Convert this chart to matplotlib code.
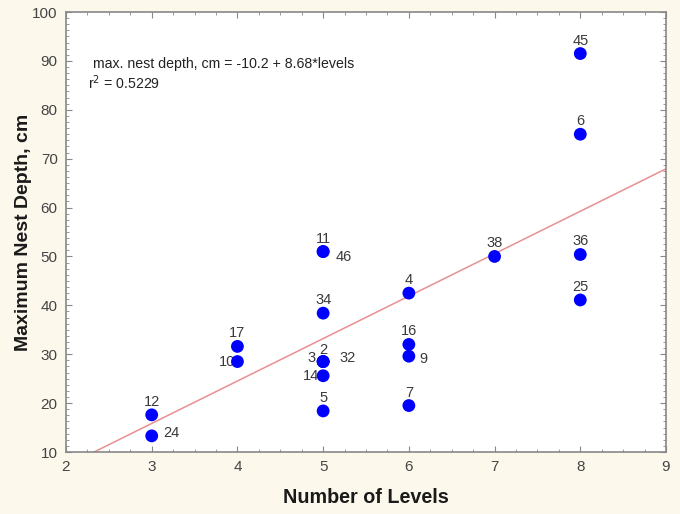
import matplotlib
matplotlib.use("Agg")
import matplotlib.pyplot as plt
from matplotlib.ticker import MultipleLocator
import numpy as np

plt.rcParams['font.family'] = ['Liberation Sans', 'DejaVu Sans']

# Data
levels = [3, 3, 4, 4, 5, 5, 5, 5, 5, 5, 5, 5, 6, 6, 6, 6, 7, 8, 8, 8, 8]
depth = [17.6, 13.3, 31.6, 28.5, 51.0, 51.0, 38.4, 28.5, 28.5, 28.5, 25.6, 18.4,
         42.5, 32.0, 29.6, 19.5, 50.0, 91.5, 75.0, 50.4, 41.1]
ids = ['12', '24', '17', '10', '11', '46', '34', '2', '3', '32', '14', '5',
       '4', '16', '9', '7', '38', '45', '6', '36', '25']
intercept = -10.2
slope = 8.68
r2 = 0.5229

# label offsets in pixels (style)
offsets = {
    '12': (0, 13, 'center'), '24': (12, 3, 'left'), '17': (0, 13, 'center'),
    '10': (-2, 0, 'right'), '11': (0, 13, 'center'), '46': (12, -5, 'left'),
    '34': (0, 13, 'center'), '2': (0, 12, 'center'), '3': (-8, 4, 'right'),
    '32': (16, 4, 'left'), '14': (-4, 0, 'right'), '5': (0, 13, 'center'),
    '4': (0, 13, 'center'), '16': (0, 13, 'center'), '9': (11, -3, 'left'),
    '7': (0, 13, 'center'), '38': (0, 13, 'center'), '45': (0, 13, 'center'),
    '6': (0, 13, 'center'), '36': (0, 13, 'center'), '25': (0, 13, 'center'),
}

fig = plt.figure(figsize=(6.8, 5.14), dpi=100, facecolor='#fcf8ec')
ax = fig.add_axes([66/680, 1-452/514, 600/680, 440/514])
ax.set_facecolor('white')

ax.set_xlim(2, 9)
ax.set_ylim(10, 100)

xs = np.array([2, 9])
ax.plot(xs, intercept + slope * xs, color='#e89090', lw=1.1, zorder=1)

ax.scatter(levels, depth, s=85, color='#0000ff', zorder=3, edgecolors='none')

for x, y, t in zip(levels, depth, ids):
    dx, dy, ha = offsets[t]
    ax.annotate(t, (x, y), xytext=(dx, dy), textcoords='offset pixels',
                ha=ha, va='center', fontsize=10.5, color='#3a3a3a', zorder=2)

ax.text(0.045, 0.882, 'max. nest depth, cm = -10.2 + 8.68*levels',
        transform=ax.transAxes, fontsize=10.2, color='#222222', va='center')
ax.text(0.037, 0.840, 'r$^2$ = %.4f' % r2,
        transform=ax.transAxes, fontsize=10.2, color='#222222', va='center')

ax.xaxis.set_major_locator(MultipleLocator(1))
ax.yaxis.set_major_locator(MultipleLocator(10))
ax.xaxis.set_minor_locator(MultipleLocator(0.25))
ax.yaxis.set_minor_locator(MultipleLocator(1.25))
ax.tick_params(which='both', direction='in', top=True, right=True, color='#888888')
ax.tick_params(which='major', length=4, labelsize=11, labelcolor='#444444', pad=6)
ax.tick_params(which='minor', length=2)
for s in ax.spines.values():
    s.set_color('#888888')
    s.set_linewidth(1.2)

ax.set_xlabel('Number of Levels', fontsize=14.2, fontweight='bold', color='#1a1a1a', labelpad=10)
ax.set_ylabel('Maximum Nest Depth, cm', fontsize=14, fontweight='bold', color='#1a1a1a', labelpad=0)

fig.savefig('out.png', dpi=100, facecolor=fig.get_facecolor())
